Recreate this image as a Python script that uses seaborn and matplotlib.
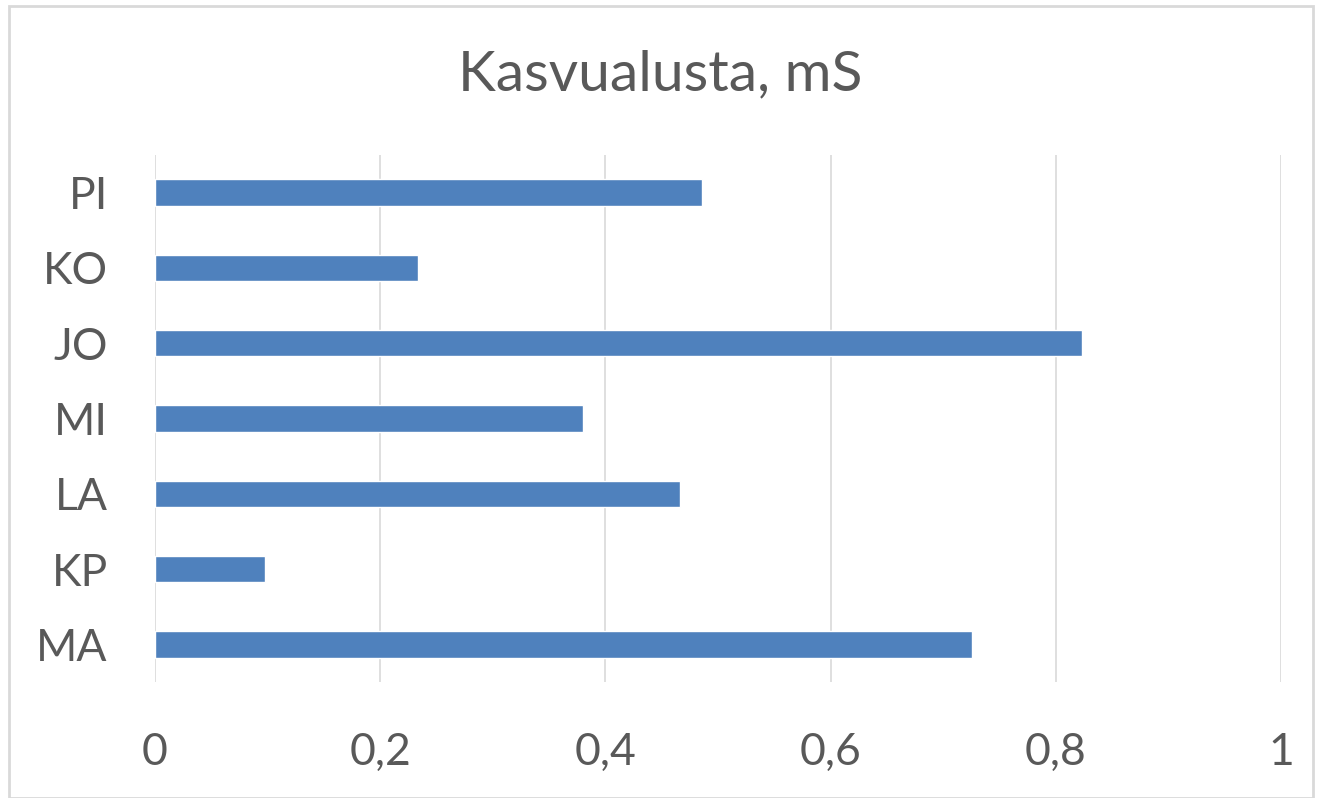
import matplotlib
matplotlib.use("Agg")
import matplotlib.pyplot as plt
import matplotlib.ticker as mticker
import pandas as pd
import seaborn as sns

# =========================================================
# DATA
# =========================================================

categories = ["PI", "KO", "JO", "MI", "LA", "KP", "MA"]
values = [0.486, 0.234, 0.823, 0.380, 0.466, 0.098, 0.726]
x_ticks = [0, 0.2, 0.4, 0.6, 0.8, 1.0]

df = pd.DataFrame({"kasvualusta": categories, "mS": values})

# =========================================================
# STYLE
# =========================================================

sns.set_style("white")
plt.rcParams["font.family"] = ["Lato", "DejaVu Sans"]

text_color = "#595959"
grid_color = "#D9D9D9"
bar_color = "#4F81BD"

# =========================================================
# GRAPH
# =========================================================

fig = plt.figure(figsize=(13.2, 7.98), dpi=100)
ax = fig.add_axes([155 / 1320, 1 - 682 / 798, 1126 / 1320, 527 / 798])

sns.barplot(
    data=df,
    x="mS",
    y="kasvualusta",
    orient="h",
    color=bar_color,
    saturation=1,
    width=0.35,
    ax=ax,
)

ax.set_xlim(0, 1)
ax.set_ylim(len(categories) - 0.5, -0.5)
ax.set_xticks(x_ticks)
ax.xaxis.set_major_formatter(
    mticker.FuncFormatter(lambda v, p: f"{v:g}".replace(".", ","))
)

ax.grid(axis="x", color=grid_color, linewidth=1.2)
ax.set_axisbelow(True)
for s in ax.spines.values():
    s.set_visible(False)

ax.tick_params(axis="x", length=0, pad=36, labelsize=32, labelcolor=text_color)
ax.tick_params(axis="y", length=0, pad=34, labelsize=32, labelcolor=text_color)
ax.set_xlabel("")
ax.set_ylabel("")

fig.text(0.5, 1 - 75 / 798, "Kasvualusta, mS", ha="center", va="center",
         fontsize=41, color=text_color)

# light chart border
border = plt.Rectangle((9 / 1320, 0), 1 - 16 / 1320, 1 - 6 / 798,
                       transform=fig.transFigure, fill=False,
                       edgecolor=grid_color, linewidth=2)
fig.patches.append(border)

fig.savefig("out.png", dpi=100, facecolor="white")
